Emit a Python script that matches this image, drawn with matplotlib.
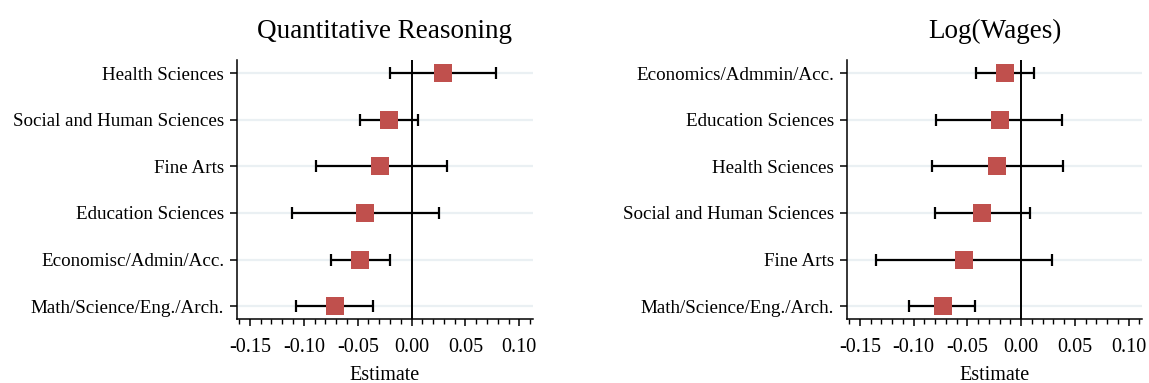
import matplotlib
matplotlib.use("Agg")
import matplotlib.pyplot as plt
from matplotlib.ticker import MultipleLocator, FormatStrFormatter

plt.rcParams['font.family'] = ['Liberation Serif', 'DejaVu Serif']

# Quantitative Reasoning panel (top to bottom)
qr_labels = ["Health Sciences", "Social and Human Sciences", "Fine Arts",
             "Education Sciences", "Economisc/Admin/Acc.", "Math/Science/Eng./Arch."]
qr_est = [0.029, -0.021, -0.029, -0.043, -0.048, -0.071]
qr_lo = [-0.020, -0.048, -0.089, -0.111, -0.075, -0.107]
qr_hi = [0.078, 0.006, 0.033, 0.025, -0.020, -0.036]

# Log(Wages) panel (top to bottom)
lw_labels = ["Economics/Admmin/Acc.", "Education Sciences", "Health Sciences",
             "Social and Human Sciences", "Fine Arts", "Math/Science/Eng./Arch."]
lw_est = [-0.015, -0.020, -0.022, -0.036, -0.053, -0.073]
lw_lo = [-0.042, -0.079, -0.083, -0.080, -0.135, -0.104]
lw_hi = [0.012, 0.038, 0.039, 0.008, 0.029, -0.043]

xticks = [-0.15, -0.10, -0.05, 0.00, 0.05, 0.10]

fig = plt.figure(figsize=(11.49, 3.83), dpi=100)
ax1 = fig.add_axes([0.206, 0.1663, 0.258, 0.677])
ax2 = fig.add_axes([0.7369, 0.1663, 0.2573, 0.677])


def panel(ax, title, labels, est, lo, hi):
    n = len(labels)
    ys = list(range(n, 0, -1))
    for y in ys:
        ax.axhline(y, color="#eaf0f3", lw=1.6, zorder=0)
    ax.axvline(0, color="black", lw=1.4, zorder=1)
    err = [[e - l for e, l in zip(est, lo)], [h - e for e, h in zip(est, hi)]]
    ax.errorbar(est, ys, xerr=err, fmt="none", ecolor="black", elinewidth=1.6,
                capsize=4.5, capthick=1.6, zorder=2)
    ax.scatter(est, ys, marker="s", s=150, color="#c0504d", zorder=3, linewidths=0)
    ax.set_yticks(ys)
    ax.set_yticklabels(labels, fontsize=13.7)
    ax.set_ylim(0.72, n + 0.28)
    ax.set_xlim(-0.1623, 0.1128)
    ax.set_xticks(xticks)
    ax.xaxis.set_major_formatter(FormatStrFormatter("%.2f"))
    ax.xaxis.set_minor_locator(MultipleLocator(0.01))
    ax.tick_params(axis="x", which="major", length=5, width=1.1, labelsize=14.5, pad=8.5)
    ax.tick_params(axis="x", which="minor", length=3.5, width=1.0)
    ax.tick_params(axis="y", which="major", length=5, width=1.1, pad=4)
    for s in ("top", "right"):
        ax.spines[s].set_visible(False)
    for s in ("left", "bottom"):
        ax.spines[s].set_linewidth(1.1)
    ax.set_xlabel("Estimate", fontsize=14.5, labelpad=6.5)
    ax.set_title(title, fontsize=19.5, pad=16)


panel(ax1, "Quantitative Reasoning", qr_labels, qr_est, qr_lo, qr_hi)
panel(ax2, "Log(Wages)", lw_labels, lw_est, lw_lo, lw_hi)

fig.savefig("out.png", dpi=100)
